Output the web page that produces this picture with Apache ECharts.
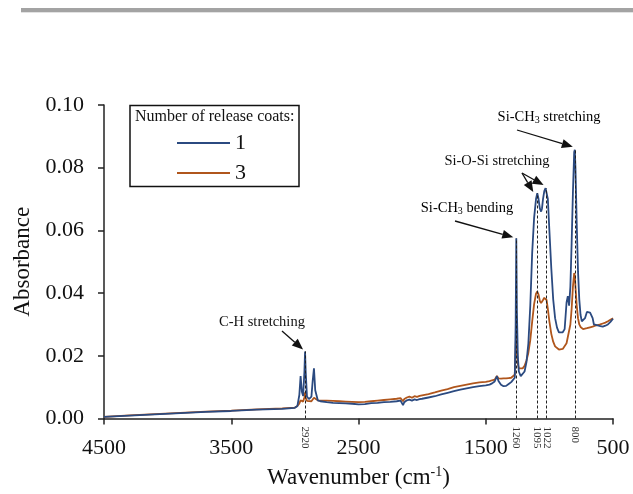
<!DOCTYPE html>
<html>
<head>
<meta charset="utf-8">
<script src="https://cdn.jsdelivr.net/npm/echarts@6/dist/echarts.min.js"></script>
<style>
  html, body { margin: 0; padding: 0; background: #fff; }
  #chart { width: 633px; height: 494px; }
</style>
</head>
<body>
<div id="chart"></div>
<script>
// wavenumbers (cm-1), descending
const waves = [4500, 4300, 4100, 3900, 3700, 3500, 3300, 3100, 3000, 2980, 2965, 2955, 2945, 2935, 2925, 2920, 2915, 2905, 2890, 2870, 2860, 2850, 2840, 2820, 2800,
  2750, 2700, 2650, 2600, 2550, 2500, 2450, 2400, 2350, 2300, 2250, 2200, 2170, 2160, 2150, 2140, 2120, 2100, 2080, 2060, 2040, 2020, 2000,
  1950, 1900, 1850, 1800, 1750, 1700, 1650, 1600, 1550, 1500, 1470, 1450, 1430, 1412, 1400, 1380, 1360, 1340, 1320, 1300, 1285, 1272, 1265,
  1260, 1255, 1248, 1240, 1225, 1210, 1195, 1180, 1165, 1150, 1135, 1120, 1105, 1095, 1085, 1075, 1065, 1058, 1050, 1040, 1030, 1022, 1012,
  1000, 985, 970, 955, 940, 925, 910, 895, 880, 865, 855, 845, 835, 825, 815, 805, 800, 795, 785, 775, 765, 755, 745, 735, 720, 705, 690,
  680, 670, 660, 650, 640, 620, 600, 580, 560, 540, 520, 500];

// absorbance, 1 release coat
const coat1 = [0.0005, 0.0009, 0.0013, 0.0017, 0.0021, 0.0024, 0.0028, 0.0031, 0.0034, 0.0040, 0.0075, 0.0135, 0.0085, 0.0072, 0.0150, 0.0214, 0.0150, 0.0070, 0.0062, 0.0070, 0.0120, 0.0160, 0.0090, 0.0058, 0.0055,
  0.0052, 0.0050, 0.0049, 0.0048, 0.0047, 0.0045, 0.0046, 0.0049, 0.0050, 0.0052, 0.0053, 0.0055, 0.0057, 0.0060, 0.0043, 0.0052, 0.0058, 0.0060, 0.0057, 0.0061, 0.0059, 0.0062, 0.0063,
  0.0067, 0.0071, 0.0077, 0.0082, 0.0087, 0.0092, 0.0096, 0.0100, 0.0103, 0.0106, 0.0108, 0.0112, 0.0118, 0.0135, 0.0120, 0.0108, 0.0103, 0.0104, 0.0110, 0.0116, 0.0118, 0.0130, 0.0300,
  0.0575, 0.0340, 0.0200, 0.0150, 0.0135, 0.0138, 0.0150, 0.0180, 0.0240, 0.0360, 0.0530, 0.0640, 0.0700, 0.0719, 0.0700, 0.0670, 0.0660, 0.0670, 0.0700, 0.0725, 0.0735, 0.0735, 0.0700,
  0.0600, 0.0480, 0.0380, 0.0320, 0.0290, 0.0275, 0.0272, 0.0275, 0.0285, 0.0370, 0.0390, 0.0360, 0.0420, 0.0560, 0.0720, 0.0850, 0.0857, 0.0800, 0.0620, 0.0470, 0.0380, 0.0330, 0.0310, 0.0308, 0.0320, 0.0340, 0.0345,
  0.0338, 0.0340, 0.0320, 0.0300, 0.0298, 0.0297, 0.0295, 0.0293, 0.0296, 0.0300, 0.0308, 0.0318];

// absorbance, 3 release coats
const coat3 = [0.0005, 0.0010, 0.0014, 0.0018, 0.0022, 0.0025, 0.0029, 0.0032, 0.0035, 0.0040, 0.0048, 0.0058, 0.0055, 0.0054, 0.0068, 0.0083, 0.0066, 0.0056, 0.0054, 0.0055, 0.0060, 0.0066, 0.0060, 0.0058, 0.0057,
  0.0057, 0.0056, 0.0055, 0.0054, 0.0053, 0.0052, 0.0053, 0.0055, 0.0057, 0.0059, 0.0061, 0.0063, 0.0065, 0.0068, 0.0055, 0.0062, 0.0067, 0.0070, 0.0066, 0.0071, 0.0069, 0.0072, 0.0074,
  0.0078, 0.0083, 0.0089, 0.0094, 0.0100, 0.0104, 0.0108, 0.0112, 0.0115, 0.0117, 0.0119, 0.0122, 0.0124, 0.0136, 0.0128, 0.0127, 0.0128, 0.0128, 0.0129, 0.0130, 0.0131, 0.0140, 0.0220,
  0.0305, 0.0230, 0.0175, 0.0160, 0.0156, 0.0160, 0.0168, 0.0185, 0.0210, 0.0250, 0.0310, 0.0365, 0.0398, 0.0405, 0.0395, 0.0375, 0.0368, 0.0370, 0.0378, 0.0385, 0.0384, 0.0378, 0.0350,
  0.0310, 0.0270, 0.0245, 0.0230, 0.0224, 0.0220, 0.0220, 0.0222, 0.0228, 0.0240, 0.0260, 0.0280, 0.0300, 0.0350, 0.0420, 0.0464, 0.0455, 0.0420, 0.0360, 0.0320, 0.0300, 0.0292, 0.0288, 0.0285, 0.0285, 0.0288, 0.0290,
  0.0291, 0.0292, 0.0293, 0.0295, 0.0296, 0.0298, 0.0300, 0.0303, 0.0306, 0.0310, 0.0315, 0.0320];

// marked peaks (wavenumber, peak height of coat 1)
const peakWaves = [2920, 1260, 1095, 1022, 800];
const peakValues = [0.0214, 0.0575, 0.0719, 0.0735, 0.0857];

const seriesNames = ['1', '3'];
const legendTitle = 'Number of release coats:';

const FONT = '"Liberation Serif", "Times New Roman", serif';
const BLUE = '#2b4a80';
const ORANGE = '#b0561c';

const chart = echarts.init(document.getElementById('chart'));

const dashLines = peakWaves.map((w, i) => [{ coord: [w, 0] }, { coord: [w, peakValues[i]] }]);

chart.setOption({
  animation: false,
  backgroundColor: '#fff',
  grid: { left: 104, right: 20, top: 105, bottom: 75 },
  legend: {
    data: seriesNames,
    orient: 'vertical',
    left: 177,
    top: 132,
    padding: 0,
    icon: 'rect',
    itemWidth: 53,
    itemHeight: 2,
    itemGap: 8,
    textStyle: { fontFamily: FONT, fontSize: 22, color: '#111', lineHeight: 22 }
  },
  xAxis: {
    type: 'value',
    min: 500,
    max: 4500,
    interval: 1000,
    inverse: true,
    name: '{a|Wavenumber (cm}{s|-1}{a|)}',
    nameLocation: 'middle',
    nameGap: 47,
    nameTextStyle: {
      rich: {
        a: { fontFamily: FONT, fontSize: 23, color: '#111' },
        s: { fontFamily: FONT, fontSize: 14, color: '#111', padding: [0, 0, 10, 0] }
      }
    },
    axisLine: { lineStyle: { color: '#222', width: 1.5 } },
    axisTick: { length: 6, lineStyle: { color: '#222', width: 1.5 } },
    axisLabel: { fontFamily: FONT, fontSize: 22, color: '#111', margin: 19, formatter: v => String(v) },
    splitLine: { show: false }
  },
  yAxis: {
    type: 'value',
    min: 0,
    max: 0.1,
    interval: 0.02,
    name: 'Absorbance',
    nameLocation: 'middle',
    nameGap: 56,
    nameTextStyle: { fontFamily: FONT, fontSize: 23, color: '#111' },
    axisLine: { show: true, lineStyle: { color: '#222', width: 1.5 } },
    axisTick: { show: true, length: 6, lineStyle: { color: '#222', width: 1.5 } },
    axisLabel: { fontFamily: FONT, fontSize: 22, color: '#111', margin: 20, formatter: v => v.toFixed(2) },
    splitLine: { show: false }
  },
  series: [
    {
      name: seriesNames[0],
      type: 'line',
      data: waves.map((w, i) => [w, coat1[i]]),
      symbol: 'none',
      color: BLUE,
      lineStyle: { color: BLUE, width: 1.8 },
      z: 3,
      markLine: {
        silent: true,
        symbol: ['none', 'none'],
        label: { show: false },
        lineStyle: { color: '#222', type: [3, 2], width: 1 },
        data: dashLines
      }
    },
    {
      name: seriesNames[1],
      type: 'line',
      data: waves.map((w, i) => [w, coat3[i]]),
      symbol: 'none',
      color: ORANGE,
      lineStyle: { color: ORANGE, width: 1.8 },
      z: 2
    }
  ]
});

// annotations, anchored to the peak positions on the chart's scales
const px = (w, v) => chart.convertToPixel({ gridIndex: 0 }, [w, v]);
const textStyle = { fontFamily: FONT, fontSize: 14.5, fill: '#111' };
const rich = {
  n: { fontFamily: FONT, fontSize: 14.5, color: '#111' },
  sub: { fontFamily: FONT, fontSize: 10, color: '#111', padding: [7, 0, 0, 0] }
};

function arrow(x1, y1, x2, y2) {
  const ang = Math.atan2(y2 - y1, x2 - x1);
  const L = 11, W = 4.5;
  const bx = x2 - L * Math.cos(ang), by = y2 - L * Math.sin(ang);
  const nx = -Math.sin(ang), ny = Math.cos(ang);
  return [
    { type: 'line', shape: { x1: x1, y1: y1, x2: bx, y2: by }, style: { stroke: '#111', lineWidth: 1.3 }, z: 10 },
    { type: 'polygon', shape: { points: [[x2, y2], [bx + nx * W, by + ny * W], [bx - nx * W, by - ny * W]] }, style: { fill: '#111' }, z: 10 }
  ];
}

const p2920 = px(2920, 0.0214);
const p1260 = px(1260, 0.0575);
const p1095 = px(1095, 0.0719);
const p1022 = px(1022, 0.0735);
const p800 = px(800, 0.0857);

const graphics = [
  // grey rule at the top of the page
  { type: 'rect', shape: { x: 21, y: 8, width: 612, height: 4 }, style: { fill: '#a3a3a3' } },
  { type: 'rect', shape: { x: 21, y: 12, width: 612, height: 1 }, style: { fill: '#e2e2e2' } },
  // legend frame and title
  { type: 'rect', shape: { x: 130, y: 105.5, width: 169, height: 81 }, style: { fill: '#fff', stroke: '#111', lineWidth: 1.5 }, z: 1 },
  { type: 'text', x: 135, y: 117, style: Object.assign({}, textStyle, { text: legendTitle, fontSize: 16, verticalAlign: 'middle' }), z: 5 },
  // peak labels
  { type: 'text', x: 262, y: 322, style: Object.assign({}, textStyle, { text: 'C-H stretching', align: 'center', verticalAlign: 'middle' }), z: 10 },
  { type: 'text', x: 467, y: 208, style: { text: '{n|Si-CH}{sub|3}{n| bending}', rich: rich, align: 'center', verticalAlign: 'middle' }, z: 10 },
  { type: 'text', x: 497, y: 161, style: Object.assign({}, textStyle, { text: 'Si-O-Si stretching', align: 'center', verticalAlign: 'middle' }), z: 10 },
  { type: 'text', x: 549, y: 117, style: { text: '{n|Si-CH}{sub|3}{n| stretching}', rich: rich, align: 'center', verticalAlign: 'middle' }, z: 10 }
];

graphics.push(...arrow(282, 331, p2920[0] - 2, p2920[1] - 2));
graphics.push(...arrow(455, 221, p1260[0] - 3, p1260[1] - 1));
graphics.push(...arrow(522, 173, p1095[0] - 4, p1095[1] - 1));
graphics.push(...arrow(522, 173, p1022[0] - 3, p1022[1] - 3));
graphics.push(...arrow(517, 130, p800[0] - 2, p800[1] - 3));

// rotated wavenumber labels under the axis
const axisPx = px(4500, 0)[1];
peakWaves.forEach(w => {
  graphics.push({
    type: 'text',
    x: px(w, 0)[0],
    y: axisPx + 8,
    rotation: -Math.PI / 2,
    style: { text: String(w), fontFamily: FONT, fontSize: 11, fill: '#333', align: 'left', verticalAlign: 'middle' },
    z: 10
  });
});

chart.setOption({ graphic: graphics });
</script>
</body>
</html>
